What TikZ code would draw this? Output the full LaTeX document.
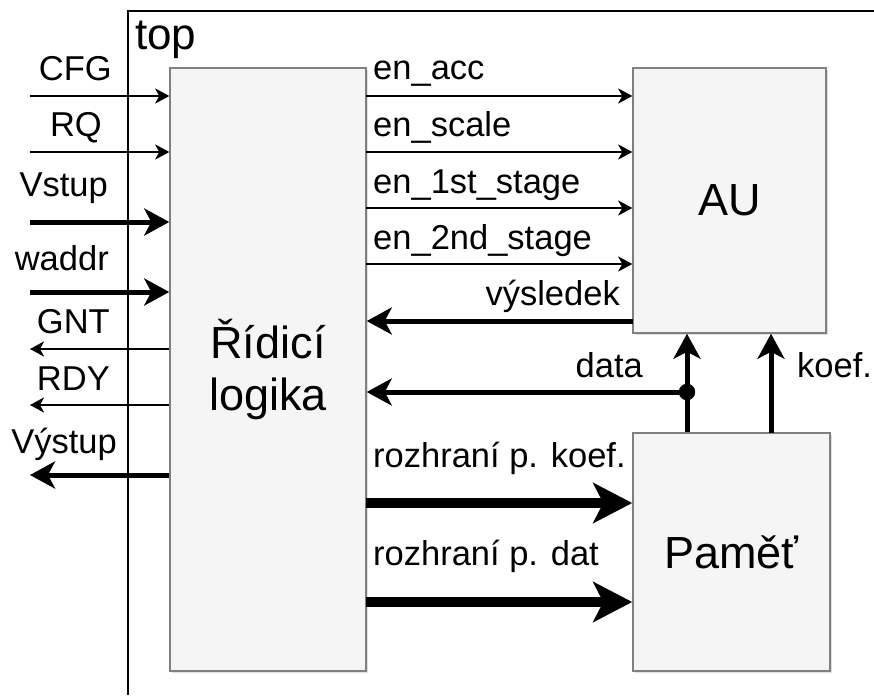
\documentclass[tikz,border=0pt]{standalone}
\usepackage{fontspec}
\setmainfont{Liberation Sans}
\usetikzlibrary{arrows.meta,positioning,shadows}

\begin{document}
\begin{tikzpicture}[x=1pt,y=-1pt,
	block/.style={draw=black!50, fill=black!4, line width=1.5pt, inner sep=0pt,
		drop shadow={opacity=0.25,shadow xshift=2pt,shadow yshift=-2pt},
		font=\fontsize{45}{52}\selectfont, align=center},
	lbl/.style={font=\fontsize{34.5}{40}\selectfont, inner sep=0pt},
	sig/.style={line width=2.5pt, -{Stealth[length=14pt,width=15pt,inset=4pt]}},
	bus/.style={line width=5pt, -{Stealth[length=25pt,width=27pt,inset=7pt]}},
	wide/.style={line width=10pt, -{Stealth[length=39pt,width=40pt,inset=10pt]}}]
	\useasboundingbox (0,0) rectangle (874,695);

	\draw [line width=2.5pt] (128,695) -- (128,11) -- (874,11);
	\node [lbl, font=\fontsize{44}{50}\selectfont, anchor=base west] (ltop) at (135,50) {top};

	\node [block, minimum width=196pt, minimum height=603pt] (logic) at (268,369.5) {Řídicí\\logika};
	\node [block, minimum width=193pt, minimum height=265pt] (au) at (729.5,200.5) {AU};
	\node [block, minimum width=197pt, minimum height=238pt] (mem) at (731.5,552) {Paměť};

	% inputs and outputs of top
	\coordinate (cfg) at (30,96);
	\coordinate (rq) at (30,152);
	\coordinate (vstup) at (30,222);
	\coordinate (waddr) at (30,292);
	\coordinate (gnt) at (30,349);
	\coordinate (rdy) at (30,405);
	\coordinate (vystup) at (30,475);

	\draw [sig] (cfg) -- (cfg -| logic.west);
	\draw [sig] (rq) -- (rq -| logic.west);
	\draw [bus] (vstup) -- (vstup -| logic.west);
	\draw [bus] (waddr) -- (waddr -| logic.west);
	\draw [sig] (gnt -| logic.west) -- (gnt);
	\draw [sig] (rdy -| logic.west) -- (rdy);
	\draw [bus] (vystup -| logic.west) -- (vystup);

	\node [lbl, anchor=base east] (lcfg) at (112,81) {CFG};
	\node [lbl, anchor=base east] (lrq) at (102,137) {RQ};
	\node [lbl, anchor=base east] (lvstup) at (108,196) {Vstup};
	\node [lbl, anchor=base east] (lwaddr) at (109,270) {waddr};
	\node [lbl, anchor=base east] (lgnt) at (110,333) {GNT};
	\node [lbl, anchor=base east] (lrdy) at (110,390) {RDY};
	\node [lbl, anchor=base east] (lvystup) at (117,453) {Výstup};

	% control signals to AU
	\coordinate (acc) at (366,96);
	\coordinate (scale) at (366,152);
	\coordinate (first) at (366,208);
	\coordinate (second) at (366,264);

	\draw [sig] (acc) -- (acc -| au.west);
	\draw [sig] (scale) -- (scale -| au.west);
	\draw [sig] (first) -- (first -| au.west);
	\draw [sig] (second) -- (second -| au.west);

	\node [lbl, anchor=base west] (lacc) at (373,80) {en\_acc};
	\node [lbl, anchor=base west] (lscale) at (373,137) {en\_scale};
	\node [lbl, anchor=base west] (lfirst) at (373,193) {en\_1st\_stage};
	\node [lbl, anchor=base west] (lsecond) at (373,249) {en\_2nd\_stage};

	% results and data back to the logic
	\coordinate (res) at (633,321);
	\coordinate (jn) at (687,392);
	\coordinate (kf) at (771,433);

	\draw [bus] (res) -- (res -| logic.east);
	\draw [bus] (jn) -- (jn -| logic.east);
	\draw [bus] (mem.north -| jn) -- (au.south -| jn);
	\draw [bus] (kf) -- (kf |- au.south);
	\filldraw (jn) circle (8pt);

	\node [lbl, anchor=base east] (lres) at (620,305) {výsledek};
	\node [lbl, anchor=base east] (ldata) at (643,377) {data};
	\node [lbl, anchor=base west] (lkf) at (797,377) {koef.};

	% memory interfaces
	\coordinate (ifkoef) at (366,503);
	\coordinate (ifdat) at (366,602);

	\draw [wide] (ifkoef) -- (ifkoef -| mem.west);
	\draw [wide] (ifdat) -- (ifdat -| mem.west);

	\node [lbl, anchor=base west] (lifkoef) at (373,467) {rozhraní p. koef.};
	\node [lbl, anchor=base west] (lifdat) at (373,565) {rozhraní p. dat};
\end{tikzpicture}
\end{document}
